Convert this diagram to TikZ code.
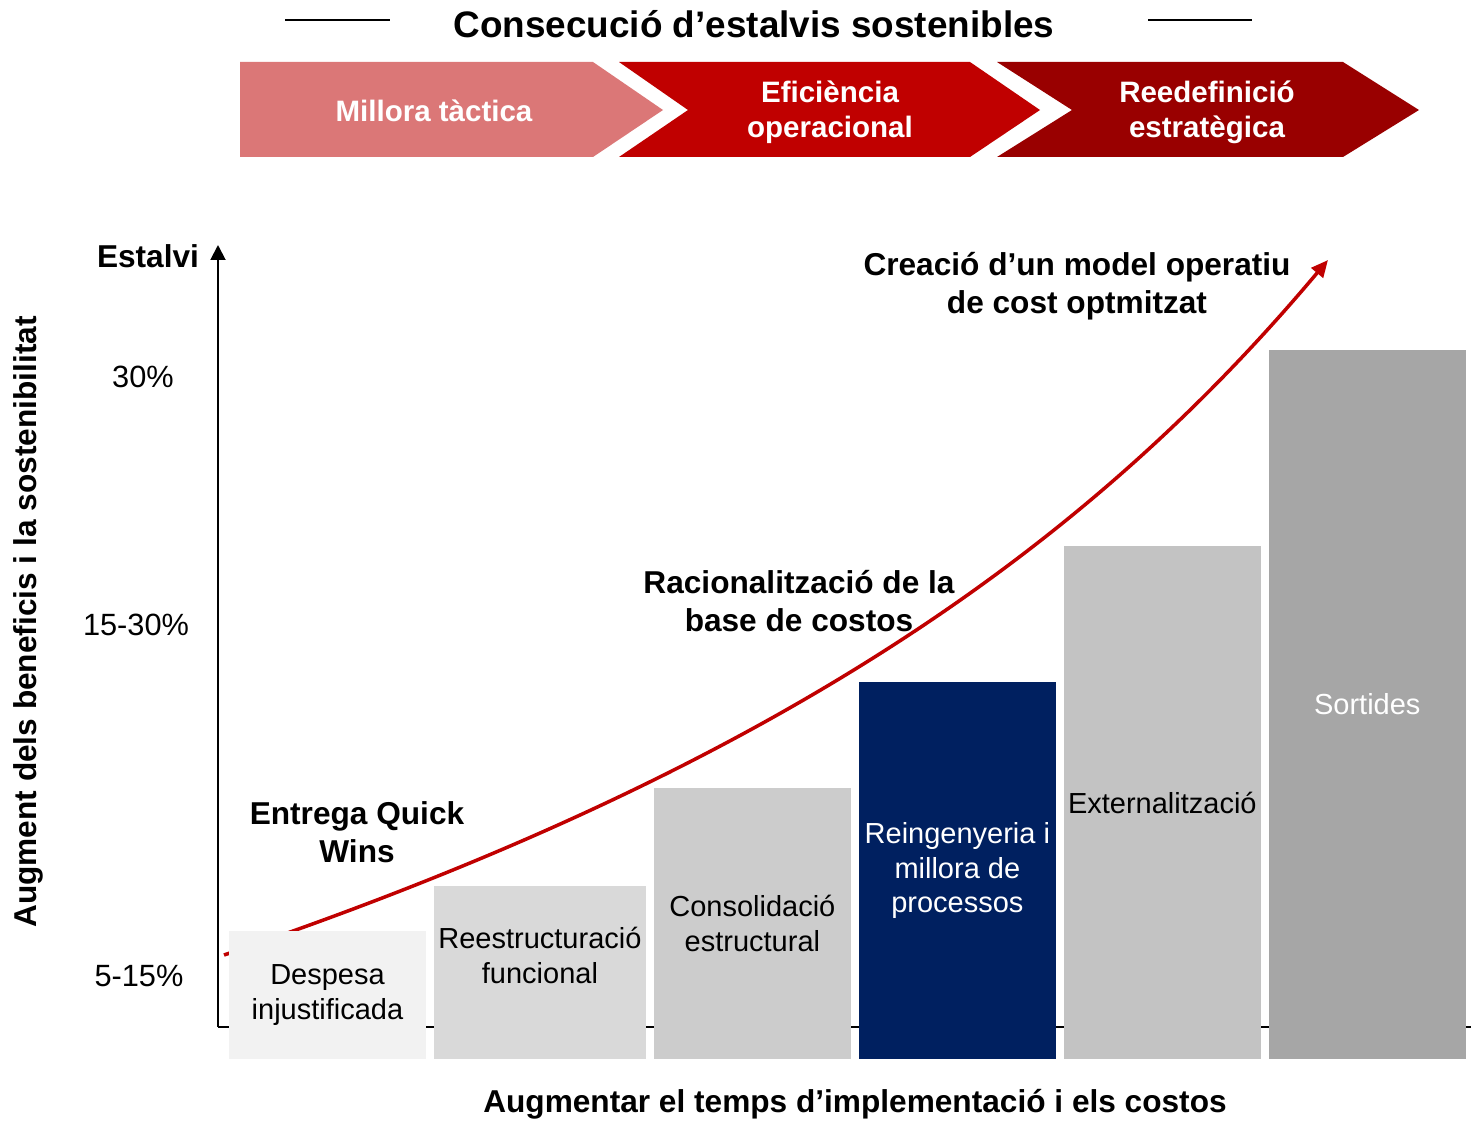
\documentclass[tikz,border=0pt]{standalone}
\usepackage{fontspec}
\setmainfont{Liberation Sans}
\usepackage{xcolor}
\usetikzlibrary{arrows.meta,positioning}

\definecolor{phaseA}{HTML}{DB7777}
\definecolor{phaseB}{HTML}{C00000}
\definecolor{phaseC}{HTML}{990000}
\definecolor{navybar}{HTML}{002060}
\definecolor{trendred}{HTML}{C00000}

\begin{document}
\begin{tikzpicture}[
    x=0.02cm, y=-0.02cm,
    phase/.style={text=white, align=center, font=\fontsize{16.8}{19.8}\selectfont\bfseries},
    bar/.style={rectangle, anchor=south west, minimum width=3.94cm, inner sep=1pt, outer sep=0pt, align=center, font=\fontsize{16.5}{19.8}\selectfont},
    tick/.style={font=\fontsize{17.5}{21}\selectfont},
    note/.style={align=center, font=\fontsize{18}{21.5}\selectfont\bfseries},
    axis/.style={line width=1.1pt, draw=black},
    trend/.style={draw=trendred, line width=2pt, -{Triangle[length=3.4mm, width=3mm]}}
]
    \useasboundingbox (0,0) rectangle (1471,1122);

    % heading and phases
    \node [font=\fontsize{21}{25}\selectfont\bfseries] (title) at (754,24) {Consecució d’estalvis sostenibles};
    \draw [line width=0.9pt] (285,20) -- (390,20);
    \draw [line width=0.9pt] (1148,20) -- (1252,20);

    \fill [phaseA] (240,62) -- (593,62) -- (663,110) -- (593,157) -- (240,157) -- cycle;
    \fill [phaseB] (619,62) -- (970,62) -- (1040,110) -- (970,157) -- (619,157) -- (688,110) -- cycle;
    \fill [phaseC] (997,62) -- (1343,62) -- (1419,110) -- (1343,157) -- (997,157) -- (1072,110) -- cycle;
    \node [phase] (tactic) at (434,111) {Millora tàctica};
    \node [phase] (operational) at (830,112) {Eficiència\\operacional};
    \node [phase] (strategic) at (1207,112) {Reedefinició\\estratègica};

    % axes
    \coordinate (origin) at (218,1027);
    \coordinate (ytop) at (218,245);
    \coordinate (xend) at (1471,1027);
    \draw [axis] (origin) -- (xend);
    \draw [axis, -{Triangle[length=3mm, width=3mm]}] (origin) -- (ytop);

    \node [note, anchor=base] (estalvi) at (148,267) {Estalvi};
    \node [tick] (t30) at (143,377) {30\%};
    \node [tick] (t15) at (136,625) {15-30\%};
    \node [tick] (t5) at (139,976) {5-15\%};
    \node [note, rotate=90] (ylab) at (28,622) {Augment dels beneficis i la sostenibilitat};
    \node [note] (xlab) at (855,1104) {Augmentar el temps d’implementació i els costos};

    % trend curve
    \coordinate (qs) at (224,955);
    \coordinate (qe) at (1328,260);
    \draw [trend] (qs) .. controls (800,760) and (1101,530) .. (qe);

    % bars
    \node [bar, fill=black!5, minimum height=2.56cm] (d1) at (229,1059) {Despesa\\injustificada};
    \node [bar, fill=black!15, minimum width=4.24cm, minimum height=3.46cm, text depth=0.68cm, right=0.16cm of d1.south east, anchor=south west] (d2) {Reestructuració\\funcional};
    \node [bar, fill=black!20, minimum height=5.42cm, right=0.16cm of d2.south east, anchor=south west] (d3) {Consolidació\\estructural};
    \node [bar, fill=navybar, text=white, minimum height=7.54cm, right=0.16cm of d3.south east, anchor=south west] (d4) {Reingenyeria i\\millora de\\processos};
    \node [bar, fill=black!23.5, minimum height=10.26cm, right=0.16cm of d4.south east, anchor=south west] (d5) {Externalització};
    \node [bar, fill=black!35, text=white, minimum height=14.18cm, right=0.16cm of d5.south east, anchor=south west] (d6) {Sortides};

    % notes along the curve
    \node [note] (quickwins) at (357,832) {Entrega Quick\\Wins};
    \node [note] (rational) at (799,601) {Racionalització de la\\base de costos};
    \node [note] (model) at (1077,286) {Creació d’un model operatiu\\de cost optmitzat};
\end{tikzpicture}
\end{document}
